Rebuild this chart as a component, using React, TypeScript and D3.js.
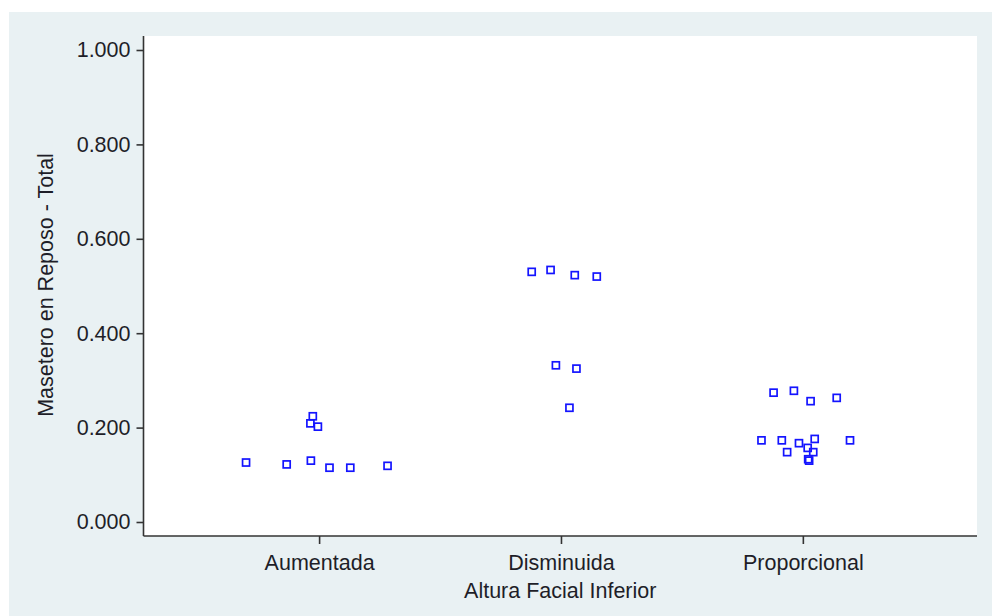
import React, { useEffect, useRef } from 'react';
import * as d3 from 'd3';

// groups on the x axis
const categories = ['Aumentada', 'Disminuida', 'Proporcional'];

// Masetero en Reposo - Total, per group
const aumentadaValues = [0.126, 0.122, 0.130, 0.115, 0.115, 0.119, 0.224, 0.209, 0.202];
const disminuidaValues = [0.530, 0.534, 0.523, 0.520, 0.332, 0.325, 0.242];
const proporcionalValues = [0.274, 0.278, 0.256, 0.263, 0.173, 0.173, 0.167, 0.176, 0.148, 0.157, 0.148, 0.133, 0.130, 0.173];

// horizontal jitter, in category units
const aumentadaJitter = [-0.302, -0.134, -0.034, 0.043, 0.129, 0.283, -0.026, -0.036, -0.005];
const disminuidaJitter = [-0.121, -0.043, 0.057, 0.148, -0.021, 0.064, 0.035];
const proporcionalJitter = [-0.121, -0.037, 0.032, 0.140, -0.171, -0.087, -0.016, 0.049, -0.065, 0.020, 0.043, 0.022, 0.026, 0.195];

const yTicks = [0, 0.2, 0.4, 0.6, 0.8, 1.0];

const W = 992;
const H = 616;
const FONT = '"Liberation Sans", Arial, sans-serif';

const App = () => {
    const svgRef = useRef<SVGSVGElement>(null);

    const plot = { left: 143.5, top: 36, right: 977, bottom: 536 };

    useEffect(() => {
        const svg = d3.select(svgRef.current);
        svg.selectAll('*').remove();

        const groups = [
            { values: aumentadaValues, jitter: aumentadaJitter },
            { values: disminuidaValues, jitter: disminuidaJitter },
            { values: proporcionalValues, jitter: proporcionalJitter },
        ];
        const points = groups.flatMap((g, i) =>
            g.values.map((v, j) => ({ x: i + 1 + g.jitter[j], y: v }))
        );

        const xScale = d3.scaleLinear()
            .domain([0.274, 3.72])
            .range([plot.left, plot.right]);

        const yScale = d3.scaleLinear()
            .domain([0, 1])
            .range([522, 50]);

        // outer region
        svg.append('rect')
            .attr('x', 9).attr('y', 12)
            .attr('width', W - 9).attr('height', H - 12)
            .attr('fill', '#e9f1f3');

        svg.append('rect')
            .attr('x', plot.left).attr('y', plot.top)
            .attr('width', plot.right - plot.left)
            .attr('height', plot.bottom - plot.top)
            .attr('fill', '#ffffff');

        const yAxis = d3.axisLeft(yScale)
            .tickValues(yTicks)
            .tickFormat(d3.format('.3f'))
            .tickSize(7)
            .tickPadding(6);

        const gy = svg.append('g')
            .attr('transform', `translate(${plot.left}, 0)`)
            .call(yAxis);
        gy.select('.domain').attr('d', `M0,${plot.top}V${plot.bottom}`);

        const xAxis = d3.axisBottom(xScale)
            .tickValues([1, 2, 3])
            .tickFormat((d, i) => categories[i])
            .tickSize(8)
            .tickPadding(11);

        const gx = svg.append('g')
            .attr('transform', `translate(0, ${plot.bottom})`)
            .call(xAxis);
        gx.select('.domain').attr('d', `M${plot.left},0H${plot.right}`);

        svg.selectAll('.domain')
            .attr('stroke', '#333')
            .attr('stroke-width', 1.6);
        svg.selectAll('.tick line')
            .attr('stroke', '#333')
            .attr('stroke-width', 1.6);
        svg.selectAll('.tick text')
            .attr('fill', '#1e1e28')
            .style('font-family', FONT)
            .style('font-size', '21.5px');

        svg.append('text')
            .attr('x', (plot.left + plot.right) / 2)
            .attr('y', 598)
            .attr('text-anchor', 'middle')
            .attr('fill', '#1e1e28')
            .style('font-family', FONT)
            .style('font-size', '21.5px')
            .text('Altura Facial Inferior');

        svg.append('text')
            .attr('transform', `translate(53, 285) rotate(-90)`)
            .attr('text-anchor', 'middle')
            .attr('fill', '#1e1e28')
            .style('font-family', FONT)
            .style('font-size', '21.5px')
            .text('Masetero en Reposo - Total');

        svg.append('g')
            .selectAll('rect')
            .data(points)
            .join('rect')
            .attr('x', d => xScale(d.x) - 3.5)
            .attr('y', d => yScale(d.y) - 3.5)
            .attr('width', 7)
            .attr('height', 7)
            .attr('fill', 'none')
            .attr('stroke', '#1414ff')
            .attr('stroke-width', 1.7);
    }, []);

    return (
        <svg
            ref={svgRef}
            width={W}
            height={H}
            style={{ position: 'absolute', left: 0, top: 0, background: '#fff' }}
        />
    );
};

export default App;
